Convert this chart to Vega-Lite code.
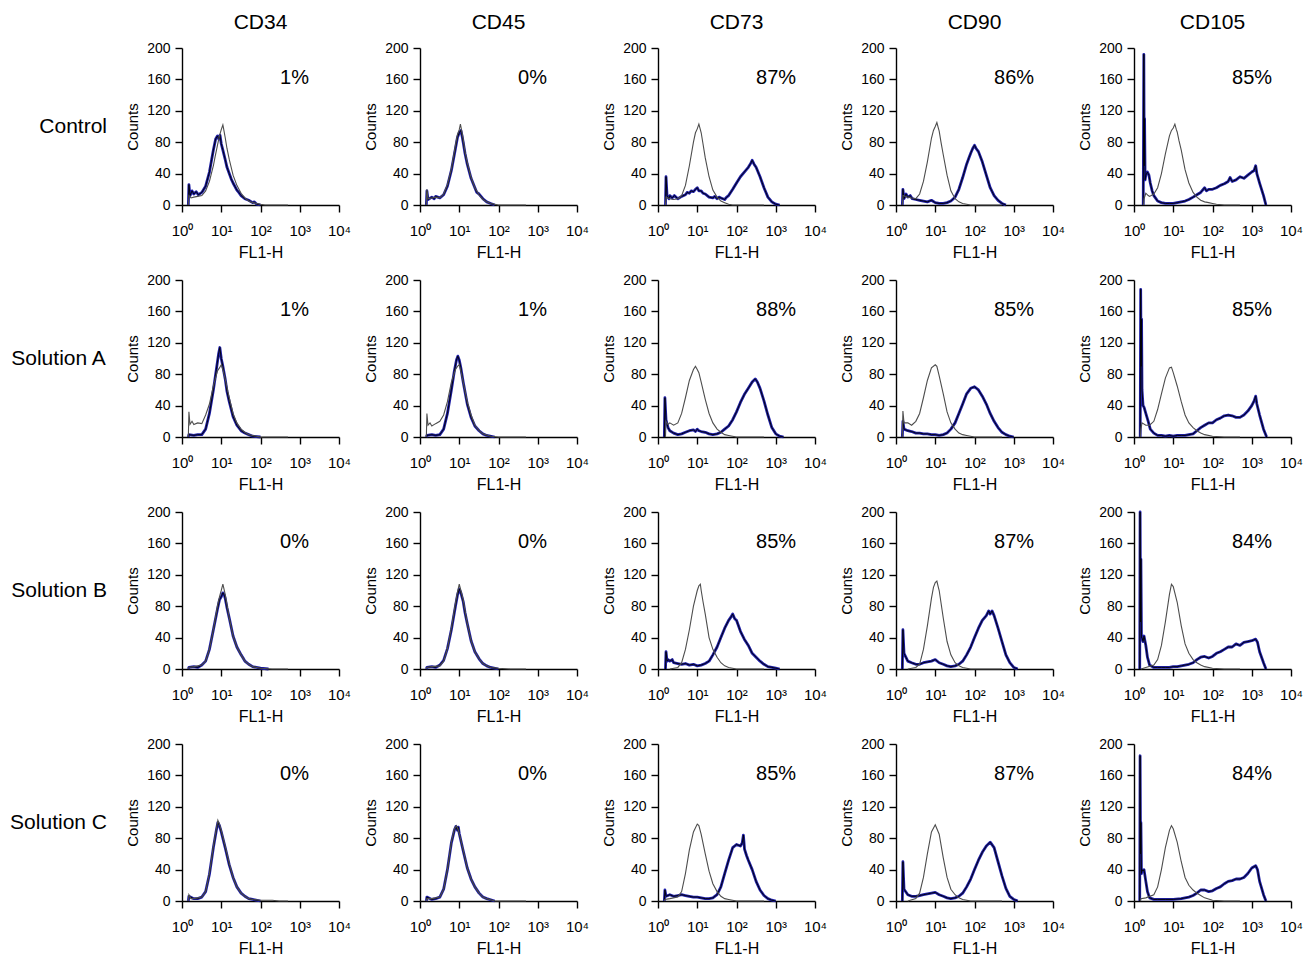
{
"$schema": "https://vega.github.io/schema/vega-lite/v6.json",
"background": "white",
"padding": {"left": 10, "top": 12, "right": 5, "bottom": 5},
"data": {"values": [
{"r":"Control","c":"CD34","s":"p","t":"1%"},
{"r":"Control","c":"CD45","s":"p","t":"0%"},
{"r":"Control","c":"CD73","s":"p","t":"87%"},
{"r":"Control","c":"CD90","s":"p","t":"86%"},
{"r":"Control","c":"CD105","s":"p","t":"85%"},
{"r":"Solution A","c":"CD34","s":"p","t":"1%"},
{"r":"Solution A","c":"CD45","s":"p","t":"1%"},
{"r":"Solution A","c":"CD73","s":"p","t":"88%"},
{"r":"Solution A","c":"CD90","s":"p","t":"85%"},
{"r":"Solution A","c":"CD105","s":"p","t":"85%"},
{"r":"Solution B","c":"CD34","s":"p","t":"0%"},
{"r":"Solution B","c":"CD45","s":"p","t":"0%"},
{"r":"Solution B","c":"CD73","s":"p","t":"85%"},
{"r":"Solution B","c":"CD90","s":"p","t":"87%"},
{"r":"Solution B","c":"CD105","s":"p","t":"84%"},
{"r":"Solution C","c":"CD34","s":"p","t":"0%"},
{"r":"Solution C","c":"CD45","s":"p","t":"0%"},
{"r":"Solution C","c":"CD73","s":"p","t":"85%"},
{"r":"Solution C","c":"CD90","s":"p","t":"87%"},
{"r":"Solution C","c":"CD105","s":"p","t":"84%"},

{"r":"Control","c":"CD34","s":"i","x":1.45,"y":0},{"r":"Control","c":"CD34","s":"i","x":1.5,"y":12},{"r":"Control","c":"CD34","s":"i","x":1.7,"y":9},{"r":"Control","c":"CD34","s":"i","x":2,"y":10},{"r":"Control","c":"CD34","s":"i","x":2.5,"y":11},{"r":"Control","c":"CD34","s":"i","x":3.2,"y":12},{"r":"Control","c":"CD34","s":"i","x":4,"y":18},{"r":"Control","c":"CD34","s":"i","x":5,"y":30},{"r":"Control","c":"CD34","s":"i","x":6.3,"y":50},{"r":"Control","c":"CD34","s":"i","x":7,"y":62},{"r":"Control","c":"CD34","s":"i","x":8,"y":76},{"r":"Control","c":"CD34","s":"i","x":9,"y":88},{"r":"Control","c":"CD34","s":"i","x":10,"y":96},{"r":"Control","c":"CD34","s":"i","x":11,"y":102},{"r":"Control","c":"CD34","s":"i","x":11.5,"y":97},{"r":"Control","c":"CD34","s":"i","x":12.6,"y":86},{"r":"Control","c":"CD34","s":"i","x":14,"y":72},{"r":"Control","c":"CD34","s":"i","x":16,"y":58},{"r":"Control","c":"CD34","s":"i","x":20,"y":38},{"r":"Control","c":"CD34","s":"i","x":25,"y":25},{"r":"Control","c":"CD34","s":"i","x":32,"y":15},{"r":"Control","c":"CD34","s":"i","x":40,"y":9},{"r":"Control","c":"CD34","s":"i","x":50,"y":5},{"r":"Control","c":"CD34","s":"i","x":63,"y":3},{"r":"Control","c":"CD34","s":"i","x":80,"y":2},{"r":"Control","c":"CD34","s":"i","x":100,"y":1},{"r":"Control","c":"CD34","s":"i","x":130,"y":0},{"r":"Control","c":"CD34","s":"i","x":500,"y":0},
{"r":"Control","c":"CD34","s":"b","x":1.45,"y":0},{"r":"Control","c":"CD34","s":"b","x":1.5,"y":26},{"r":"Control","c":"CD34","s":"b","x":1.6,"y":12},{"r":"Control","c":"CD34","s":"b","x":1.8,"y":18},{"r":"Control","c":"CD34","s":"b","x":2,"y":14},{"r":"Control","c":"CD34","s":"b","x":2.3,"y":17},{"r":"Control","c":"CD34","s":"b","x":2.6,"y":13},{"r":"Control","c":"CD34","s":"b","x":3.2,"y":16},{"r":"Control","c":"CD34","s":"b","x":4,"y":24},{"r":"Control","c":"CD34","s":"b","x":5,"y":42},{"r":"Control","c":"CD34","s":"b","x":5.7,"y":58},{"r":"Control","c":"CD34","s":"b","x":6.3,"y":70},{"r":"Control","c":"CD34","s":"b","x":7.2,"y":84},{"r":"Control","c":"CD34","s":"b","x":8,"y":88},{"r":"Control","c":"CD34","s":"b","x":8.7,"y":84},{"r":"Control","c":"CD34","s":"b","x":9.3,"y":89},{"r":"Control","c":"CD34","s":"b","x":10,"y":78},{"r":"Control","c":"CD34","s":"b","x":11,"y":70},{"r":"Control","c":"CD34","s":"b","x":12.6,"y":58},{"r":"Control","c":"CD34","s":"b","x":14,"y":48},{"r":"Control","c":"CD34","s":"b","x":16,"y":40},{"r":"Control","c":"CD34","s":"b","x":18,"y":33},{"r":"Control","c":"CD34","s":"b","x":20,"y":28},{"r":"Control","c":"CD34","s":"b","x":25,"y":19},{"r":"Control","c":"CD34","s":"b","x":28,"y":16},{"r":"Control","c":"CD34","s":"b","x":32,"y":12},{"r":"Control","c":"CD34","s":"b","x":40,"y":8},{"r":"Control","c":"CD34","s":"b","x":50,"y":6},{"r":"Control","c":"CD34","s":"b","x":63,"y":3},{"r":"Control","c":"CD34","s":"b","x":70,"y":4},{"r":"Control","c":"CD34","s":"b","x":80,"y":1},{"r":"Control","c":"CD34","s":"b","x":100,"y":0},

{"r":"Control","c":"CD45","s":"i","x":1.45,"y":0},{"r":"Control","c":"CD45","s":"i","x":1.5,"y":20},{"r":"Control","c":"CD45","s":"i","x":1.6,"y":8},{"r":"Control","c":"CD45","s":"i","x":2,"y":9},{"r":"Control","c":"CD45","s":"i","x":2.5,"y":10},{"r":"Control","c":"CD45","s":"i","x":3.2,"y":9},{"r":"Control","c":"CD45","s":"i","x":4,"y":14},{"r":"Control","c":"CD45","s":"i","x":5,"y":26},{"r":"Control","c":"CD45","s":"i","x":6.3,"y":46},{"r":"Control","c":"CD45","s":"i","x":8,"y":76},{"r":"Control","c":"CD45","s":"i","x":9,"y":90},{"r":"Control","c":"CD45","s":"i","x":10,"y":96},{"r":"Control","c":"CD45","s":"i","x":10.7,"y":103},{"r":"Control","c":"CD45","s":"i","x":11.5,"y":95},{"r":"Control","c":"CD45","s":"i","x":12.6,"y":84},{"r":"Control","c":"CD45","s":"i","x":14,"y":68},{"r":"Control","c":"CD45","s":"i","x":16,"y":54},{"r":"Control","c":"CD45","s":"i","x":20,"y":35},{"r":"Control","c":"CD45","s":"i","x":25,"y":22},{"r":"Control","c":"CD45","s":"i","x":32,"y":13},{"r":"Control","c":"CD45","s":"i","x":40,"y":7},{"r":"Control","c":"CD45","s":"i","x":50,"y":4},{"r":"Control","c":"CD45","s":"i","x":63,"y":2},{"r":"Control","c":"CD45","s":"i","x":80,"y":1},{"r":"Control","c":"CD45","s":"i","x":100,"y":0},{"r":"Control","c":"CD45","s":"i","x":500,"y":0},
{"r":"Control","c":"CD45","s":"b","x":1.45,"y":0},{"r":"Control","c":"CD45","s":"b","x":1.5,"y":18},{"r":"Control","c":"CD45","s":"b","x":1.6,"y":7},{"r":"Control","c":"CD45","s":"b","x":2,"y":10},{"r":"Control","c":"CD45","s":"b","x":2.3,"y":8},{"r":"Control","c":"CD45","s":"b","x":2.5,"y":11},{"r":"Control","c":"CD45","s":"b","x":3.2,"y":9},{"r":"Control","c":"CD45","s":"b","x":4,"y":13},{"r":"Control","c":"CD45","s":"b","x":5,"y":24},{"r":"Control","c":"CD45","s":"b","x":6.3,"y":44},{"r":"Control","c":"CD45","s":"b","x":8,"y":72},{"r":"Control","c":"CD45","s":"b","x":9,"y":86},{"r":"Control","c":"CD45","s":"b","x":10,"y":92},{"r":"Control","c":"CD45","s":"b","x":11,"y":95},{"r":"Control","c":"CD45","s":"b","x":11.8,"y":88},{"r":"Control","c":"CD45","s":"b","x":12.6,"y":80},{"r":"Control","c":"CD45","s":"b","x":14,"y":66},{"r":"Control","c":"CD45","s":"b","x":16,"y":52},{"r":"Control","c":"CD45","s":"b","x":20,"y":34},{"r":"Control","c":"CD45","s":"b","x":25,"y":22},{"r":"Control","c":"CD45","s":"b","x":28,"y":16},{"r":"Control","c":"CD45","s":"b","x":32,"y":14},{"r":"Control","c":"CD45","s":"b","x":40,"y":8},{"r":"Control","c":"CD45","s":"b","x":50,"y":4},{"r":"Control","c":"CD45","s":"b","x":63,"y":2},{"r":"Control","c":"CD45","s":"b","x":80,"y":0},

{"r":"Control","c":"CD73","s":"i","x":1.55,"y":0},{"r":"Control","c":"CD73","s":"i","x":1.6,"y":10},{"r":"Control","c":"CD73","s":"i","x":2,"y":8},{"r":"Control","c":"CD73","s":"i","x":2.5,"y":7},{"r":"Control","c":"CD73","s":"i","x":3.2,"y":8},{"r":"Control","c":"CD73","s":"i","x":4,"y":12},{"r":"Control","c":"CD73","s":"i","x":5,"y":25},{"r":"Control","c":"CD73","s":"i","x":6.3,"y":50},{"r":"Control","c":"CD73","s":"i","x":8,"y":80},{"r":"Control","c":"CD73","s":"i","x":9,"y":92},{"r":"Control","c":"CD73","s":"i","x":10,"y":97},{"r":"Control","c":"CD73","s":"i","x":11,"y":103},{"r":"Control","c":"CD73","s":"i","x":12,"y":96},{"r":"Control","c":"CD73","s":"i","x":12.6,"y":92},{"r":"Control","c":"CD73","s":"i","x":14,"y":78},{"r":"Control","c":"CD73","s":"i","x":16,"y":60},{"r":"Control","c":"CD73","s":"i","x":20,"y":36},{"r":"Control","c":"CD73","s":"i","x":25,"y":19},{"r":"Control","c":"CD73","s":"i","x":32,"y":10},{"r":"Control","c":"CD73","s":"i","x":40,"y":5},{"r":"Control","c":"CD73","s":"i","x":50,"y":3},{"r":"Control","c":"CD73","s":"i","x":63,"y":1},{"r":"Control","c":"CD73","s":"i","x":80,"y":0},{"r":"Control","c":"CD73","s":"i","x":500,"y":0},
{"r":"Control","c":"CD73","s":"b","x":1.55,"y":0},{"r":"Control","c":"CD73","s":"b","x":1.6,"y":36},{"r":"Control","c":"CD73","s":"b","x":1.7,"y":12},{"r":"Control","c":"CD73","s":"b","x":1.9,"y":8},{"r":"Control","c":"CD73","s":"b","x":2,"y":12},{"r":"Control","c":"CD73","s":"b","x":2.3,"y":9},{"r":"Control","c":"CD73","s":"b","x":2.6,"y":12},{"r":"Control","c":"CD73","s":"b","x":3.2,"y":8},{"r":"Control","c":"CD73","s":"b","x":4,"y":11},{"r":"Control","c":"CD73","s":"b","x":5,"y":13},{"r":"Control","c":"CD73","s":"b","x":5.5,"y":16},{"r":"Control","c":"CD73","s":"b","x":6.3,"y":15},{"r":"Control","c":"CD73","s":"b","x":7,"y":18},{"r":"Control","c":"CD73","s":"b","x":8,"y":17},{"r":"Control","c":"CD73","s":"b","x":9,"y":20},{"r":"Control","c":"CD73","s":"b","x":10,"y":22},{"r":"Control","c":"CD73","s":"b","x":11,"y":18},{"r":"Control","c":"CD73","s":"b","x":12.6,"y":18},{"r":"Control","c":"CD73","s":"b","x":14,"y":15},{"r":"Control","c":"CD73","s":"b","x":16,"y":14},{"r":"Control","c":"CD73","s":"b","x":20,"y":10},{"r":"Control","c":"CD73","s":"b","x":25,"y":9},{"r":"Control","c":"CD73","s":"b","x":28,"y":11},{"r":"Control","c":"CD73","s":"b","x":32,"y":8},{"r":"Control","c":"CD73","s":"b","x":36,"y":10},{"r":"Control","c":"CD73","s":"b","x":40,"y":9},{"r":"Control","c":"CD73","s":"b","x":50,"y":7},{"r":"Control","c":"CD73","s":"b","x":56,"y":10},{"r":"Control","c":"CD73","s":"b","x":63,"y":12},{"r":"Control","c":"CD73","s":"b","x":80,"y":20},{"r":"Control","c":"CD73","s":"b","x":100,"y":28},{"r":"Control","c":"CD73","s":"b","x":126,"y":36},{"r":"Control","c":"CD73","s":"b","x":158,"y":42},{"r":"Control","c":"CD73","s":"b","x":200,"y":48},{"r":"Control","c":"CD73","s":"b","x":230,"y":53},{"r":"Control","c":"CD73","s":"b","x":251,"y":57},{"r":"Control","c":"CD73","s":"b","x":280,"y":52},{"r":"Control","c":"CD73","s":"b","x":316,"y":48},{"r":"Control","c":"CD73","s":"b","x":398,"y":36},{"r":"Control","c":"CD73","s":"b","x":501,"y":22},{"r":"Control","c":"CD73","s":"b","x":631,"y":10},{"r":"Control","c":"CD73","s":"b","x":794,"y":4},{"r":"Control","c":"CD73","s":"b","x":1000,"y":1},{"r":"Control","c":"CD73","s":"b","x":1259,"y":0},

{"r":"Control","c":"CD90","s":"i","x":1.45,"y":0},{"r":"Control","c":"CD90","s":"i","x":1.5,"y":12},{"r":"Control","c":"CD90","s":"i","x":2,"y":10},{"r":"Control","c":"CD90","s":"i","x":2.5,"y":9},{"r":"Control","c":"CD90","s":"i","x":3.2,"y":8},{"r":"Control","c":"CD90","s":"i","x":4,"y":14},{"r":"Control","c":"CD90","s":"i","x":5,"y":30},{"r":"Control","c":"CD90","s":"i","x":6.3,"y":55},{"r":"Control","c":"CD90","s":"i","x":8,"y":85},{"r":"Control","c":"CD90","s":"i","x":9,"y":95},{"r":"Control","c":"CD90","s":"i","x":10,"y":100},{"r":"Control","c":"CD90","s":"i","x":11,"y":105},{"r":"Control","c":"CD90","s":"i","x":12,"y":98},{"r":"Control","c":"CD90","s":"i","x":12.6,"y":94},{"r":"Control","c":"CD90","s":"i","x":14,"y":80},{"r":"Control","c":"CD90","s":"i","x":16,"y":64},{"r":"Control","c":"CD90","s":"i","x":20,"y":38},{"r":"Control","c":"CD90","s":"i","x":25,"y":18},{"r":"Control","c":"CD90","s":"i","x":32,"y":8},{"r":"Control","c":"CD90","s":"i","x":40,"y":4},{"r":"Control","c":"CD90","s":"i","x":50,"y":2},{"r":"Control","c":"CD90","s":"i","x":63,"y":1},{"r":"Control","c":"CD90","s":"i","x":80,"y":0},{"r":"Control","c":"CD90","s":"i","x":500,"y":0},
{"r":"Control","c":"CD90","s":"b","x":1.45,"y":0},{"r":"Control","c":"CD90","s":"b","x":1.5,"y":20},{"r":"Control","c":"CD90","s":"b","x":1.6,"y":8},{"r":"Control","c":"CD90","s":"b","x":1.8,"y":14},{"r":"Control","c":"CD90","s":"b","x":2,"y":10},{"r":"Control","c":"CD90","s":"b","x":2.3,"y":12},{"r":"Control","c":"CD90","s":"b","x":2.6,"y":8},{"r":"Control","c":"CD90","s":"b","x":3.2,"y":7},{"r":"Control","c":"CD90","s":"b","x":4,"y":6},{"r":"Control","c":"CD90","s":"b","x":5,"y":5},{"r":"Control","c":"CD90","s":"b","x":6.3,"y":4},{"r":"Control","c":"CD90","s":"b","x":8,"y":6},{"r":"Control","c":"CD90","s":"b","x":10,"y":3},{"r":"Control","c":"CD90","s":"b","x":12.6,"y":2},{"r":"Control","c":"CD90","s":"b","x":16,"y":2},{"r":"Control","c":"CD90","s":"b","x":20,"y":3},{"r":"Control","c":"CD90","s":"b","x":25,"y":5},{"r":"Control","c":"CD90","s":"b","x":32,"y":10},{"r":"Control","c":"CD90","s":"b","x":40,"y":20},{"r":"Control","c":"CD90","s":"b","x":50,"y":35},{"r":"Control","c":"CD90","s":"b","x":63,"y":52},{"r":"Control","c":"CD90","s":"b","x":72,"y":60},{"r":"Control","c":"CD90","s":"b","x":80,"y":66},{"r":"Control","c":"CD90","s":"b","x":90,"y":72},{"r":"Control","c":"CD90","s":"b","x":100,"y":76},{"r":"Control","c":"CD90","s":"b","x":110,"y":72},{"r":"Control","c":"CD90","s":"b","x":126,"y":68},{"r":"Control","c":"CD90","s":"b","x":158,"y":55},{"r":"Control","c":"CD90","s":"b","x":200,"y":38},{"r":"Control","c":"CD90","s":"b","x":251,"y":22},{"r":"Control","c":"CD90","s":"b","x":316,"y":12},{"r":"Control","c":"CD90","s":"b","x":398,"y":6},{"r":"Control","c":"CD90","s":"b","x":501,"y":2},{"r":"Control","c":"CD90","s":"b","x":631,"y":0},

{"r":"Control","c":"CD105","s":"i","x":1.75,"y":0},{"r":"Control","c":"CD105","s":"i","x":1.8,"y":8},{"r":"Control","c":"CD105","s":"i","x":2,"y":15},{"r":"Control","c":"CD105","s":"i","x":2.3,"y":12},{"r":"Control","c":"CD105","s":"i","x":2.5,"y":11},{"r":"Control","c":"CD105","s":"i","x":3.2,"y":14},{"r":"Control","c":"CD105","s":"i","x":4,"y":22},{"r":"Control","c":"CD105","s":"i","x":5,"y":40},{"r":"Control","c":"CD105","s":"i","x":6.3,"y":65},{"r":"Control","c":"CD105","s":"i","x":8,"y":88},{"r":"Control","c":"CD105","s":"i","x":9,"y":95},{"r":"Control","c":"CD105","s":"i","x":10,"y":98},{"r":"Control","c":"CD105","s":"i","x":11,"y":103},{"r":"Control","c":"CD105","s":"i","x":12,"y":96},{"r":"Control","c":"CD105","s":"i","x":12.6,"y":93},{"r":"Control","c":"CD105","s":"i","x":14,"y":82},{"r":"Control","c":"CD105","s":"i","x":16,"y":70},{"r":"Control","c":"CD105","s":"i","x":20,"y":45},{"r":"Control","c":"CD105","s":"i","x":25,"y":28},{"r":"Control","c":"CD105","s":"i","x":32,"y":16},{"r":"Control","c":"CD105","s":"i","x":40,"y":10},{"r":"Control","c":"CD105","s":"i","x":50,"y":6},{"r":"Control","c":"CD105","s":"i","x":63,"y":4},{"r":"Control","c":"CD105","s":"i","x":80,"y":3},{"r":"Control","c":"CD105","s":"i","x":100,"y":2},{"r":"Control","c":"CD105","s":"i","x":126,"y":1},{"r":"Control","c":"CD105","s":"i","x":200,"y":0},{"r":"Control","c":"CD105","s":"i","x":500,"y":0},
{"r":"Control","c":"CD105","s":"b","x":1.72,"y":0},{"r":"Control","c":"CD105","s":"b","x":1.78,"y":192},{"r":"Control","c":"CD105","s":"b","x":1.82,"y":50},{"r":"Control","c":"CD105","s":"b","x":1.86,"y":110},{"r":"Control","c":"CD105","s":"b","x":1.92,"y":32},{"r":"Control","c":"CD105","s":"b","x":2,"y":38},{"r":"Control","c":"CD105","s":"b","x":2.2,"y":42},{"r":"Control","c":"CD105","s":"b","x":2.4,"y":38},{"r":"Control","c":"CD105","s":"b","x":2.6,"y":28},{"r":"Control","c":"CD105","s":"b","x":2.9,"y":18},{"r":"Control","c":"CD105","s":"b","x":3.2,"y":12},{"r":"Control","c":"CD105","s":"b","x":4,"y":5},{"r":"Control","c":"CD105","s":"b","x":5,"y":3},{"r":"Control","c":"CD105","s":"b","x":6.3,"y":2},{"r":"Control","c":"CD105","s":"b","x":8,"y":2},{"r":"Control","c":"CD105","s":"b","x":10,"y":2},{"r":"Control","c":"CD105","s":"b","x":12.6,"y":3},{"r":"Control","c":"CD105","s":"b","x":16,"y":4},{"r":"Control","c":"CD105","s":"b","x":20,"y":5},{"r":"Control","c":"CD105","s":"b","x":25,"y":7},{"r":"Control","c":"CD105","s":"b","x":32,"y":10},{"r":"Control","c":"CD105","s":"b","x":40,"y":13},{"r":"Control","c":"CD105","s":"b","x":50,"y":16},{"r":"Control","c":"CD105","s":"b","x":63,"y":22},{"r":"Control","c":"CD105","s":"b","x":70,"y":18},{"r":"Control","c":"CD105","s":"b","x":80,"y":20},{"r":"Control","c":"CD105","s":"b","x":100,"y":20},{"r":"Control","c":"CD105","s":"b","x":126,"y":22},{"r":"Control","c":"CD105","s":"b","x":158,"y":25},{"r":"Control","c":"CD105","s":"b","x":200,"y":27},{"r":"Control","c":"CD105","s":"b","x":251,"y":30},{"r":"Control","c":"CD105","s":"b","x":280,"y":35},{"r":"Control","c":"CD105","s":"b","x":316,"y":30},{"r":"Control","c":"CD105","s":"b","x":398,"y":32},{"r":"Control","c":"CD105","s":"b","x":501,"y":36},{"r":"Control","c":"CD105","s":"b","x":631,"y":34},{"r":"Control","c":"CD105","s":"b","x":794,"y":38},{"r":"Control","c":"CD105","s":"b","x":1000,"y":42},{"r":"Control","c":"CD105","s":"b","x":1150,"y":44},{"r":"Control","c":"CD105","s":"b","x":1259,"y":50},{"r":"Control","c":"CD105","s":"b","x":1350,"y":40},{"r":"Control","c":"CD105","s":"b","x":1585,"y":28},{"r":"Control","c":"CD105","s":"b","x":1995,"y":12},{"r":"Control","c":"CD105","s":"b","x":2300,"y":0},

{"r":"Solution A","c":"CD34","s":"i","x":1.45,"y":0},{"r":"Solution A","c":"CD34","s":"i","x":1.5,"y":32},{"r":"Solution A","c":"CD34","s":"i","x":1.6,"y":16},{"r":"Solution A","c":"CD34","s":"i","x":1.8,"y":20},{"r":"Solution A","c":"CD34","s":"i","x":2,"y":16},{"r":"Solution A","c":"CD34","s":"i","x":2.5,"y":18},{"r":"Solution A","c":"CD34","s":"i","x":3.2,"y":17},{"r":"Solution A","c":"CD34","s":"i","x":4,"y":28},{"r":"Solution A","c":"CD34","s":"i","x":5,"y":42},{"r":"Solution A","c":"CD34","s":"i","x":6.3,"y":65},{"r":"Solution A","c":"CD34","s":"i","x":8,"y":84},{"r":"Solution A","c":"CD34","s":"i","x":9,"y":88},{"r":"Solution A","c":"CD34","s":"i","x":10,"y":92},{"r":"Solution A","c":"CD34","s":"i","x":11,"y":86},{"r":"Solution A","c":"CD34","s":"i","x":12.6,"y":74},{"r":"Solution A","c":"CD34","s":"i","x":16,"y":50},{"r":"Solution A","c":"CD34","s":"i","x":20,"y":30},{"r":"Solution A","c":"CD34","s":"i","x":25,"y":18},{"r":"Solution A","c":"CD34","s":"i","x":32,"y":10},{"r":"Solution A","c":"CD34","s":"i","x":40,"y":6},{"r":"Solution A","c":"CD34","s":"i","x":50,"y":3},{"r":"Solution A","c":"CD34","s":"i","x":63,"y":2},{"r":"Solution A","c":"CD34","s":"i","x":80,"y":1},{"r":"Solution A","c":"CD34","s":"i","x":100,"y":0},{"r":"Solution A","c":"CD34","s":"i","x":500,"y":0},
{"r":"Solution A","c":"CD34","s":"b","x":1.45,"y":0},{"r":"Solution A","c":"CD34","s":"b","x":1.5,"y":3},{"r":"Solution A","c":"CD34","s":"b","x":2,"y":2},{"r":"Solution A","c":"CD34","s":"b","x":2.5,"y":3},{"r":"Solution A","c":"CD34","s":"b","x":3.2,"y":3},{"r":"Solution A","c":"CD34","s":"b","x":4,"y":10},{"r":"Solution A","c":"CD34","s":"b","x":5,"y":30},{"r":"Solution A","c":"CD34","s":"b","x":6.3,"y":60},{"r":"Solution A","c":"CD34","s":"b","x":7.5,"y":86},{"r":"Solution A","c":"CD34","s":"b","x":8.5,"y":105},{"r":"Solution A","c":"CD34","s":"b","x":9.2,"y":114},{"r":"Solution A","c":"CD34","s":"b","x":10,"y":100},{"r":"Solution A","c":"CD34","s":"b","x":11,"y":90},{"r":"Solution A","c":"CD34","s":"b","x":12.6,"y":74},{"r":"Solution A","c":"CD34","s":"b","x":14,"y":58},{"r":"Solution A","c":"CD34","s":"b","x":16,"y":45},{"r":"Solution A","c":"CD34","s":"b","x":20,"y":26},{"r":"Solution A","c":"CD34","s":"b","x":25,"y":15},{"r":"Solution A","c":"CD34","s":"b","x":32,"y":8},{"r":"Solution A","c":"CD34","s":"b","x":40,"y":5},{"r":"Solution A","c":"CD34","s":"b","x":50,"y":3},{"r":"Solution A","c":"CD34","s":"b","x":63,"y":1},{"r":"Solution A","c":"CD34","s":"b","x":100,"y":0},

{"r":"Solution A","c":"CD45","s":"i","x":1.45,"y":0},{"r":"Solution A","c":"CD45","s":"i","x":1.5,"y":30},{"r":"Solution A","c":"CD45","s":"i","x":1.6,"y":15},{"r":"Solution A","c":"CD45","s":"i","x":1.8,"y":18},{"r":"Solution A","c":"CD45","s":"i","x":2,"y":14},{"r":"Solution A","c":"CD45","s":"i","x":2.5,"y":17},{"r":"Solution A","c":"CD45","s":"i","x":3.2,"y":20},{"r":"Solution A","c":"CD45","s":"i","x":4,"y":28},{"r":"Solution A","c":"CD45","s":"i","x":5,"y":45},{"r":"Solution A","c":"CD45","s":"i","x":6.3,"y":70},{"r":"Solution A","c":"CD45","s":"i","x":8,"y":86},{"r":"Solution A","c":"CD45","s":"i","x":9,"y":90},{"r":"Solution A","c":"CD45","s":"i","x":10,"y":92},{"r":"Solution A","c":"CD45","s":"i","x":11,"y":84},{"r":"Solution A","c":"CD45","s":"i","x":12.6,"y":70},{"r":"Solution A","c":"CD45","s":"i","x":16,"y":45},{"r":"Solution A","c":"CD45","s":"i","x":20,"y":28},{"r":"Solution A","c":"CD45","s":"i","x":25,"y":15},{"r":"Solution A","c":"CD45","s":"i","x":32,"y":8},{"r":"Solution A","c":"CD45","s":"i","x":40,"y":4},{"r":"Solution A","c":"CD45","s":"i","x":63,"y":1},{"r":"Solution A","c":"CD45","s":"i","x":100,"y":0},{"r":"Solution A","c":"CD45","s":"i","x":500,"y":0},
{"r":"Solution A","c":"CD45","s":"b","x":1.45,"y":0},{"r":"Solution A","c":"CD45","s":"b","x":1.5,"y":2},{"r":"Solution A","c":"CD45","s":"b","x":2,"y":3},{"r":"Solution A","c":"CD45","s":"b","x":2.5,"y":2},{"r":"Solution A","c":"CD45","s":"b","x":3.2,"y":3},{"r":"Solution A","c":"CD45","s":"b","x":4,"y":10},{"r":"Solution A","c":"CD45","s":"b","x":5,"y":30},{"r":"Solution A","c":"CD45","s":"b","x":6.3,"y":60},{"r":"Solution A","c":"CD45","s":"b","x":7.5,"y":84},{"r":"Solution A","c":"CD45","s":"b","x":8.5,"y":98},{"r":"Solution A","c":"CD45","s":"b","x":9.2,"y":103},{"r":"Solution A","c":"CD45","s":"b","x":10,"y":98},{"r":"Solution A","c":"CD45","s":"b","x":11,"y":88},{"r":"Solution A","c":"CD45","s":"b","x":12.6,"y":70},{"r":"Solution A","c":"CD45","s":"b","x":16,"y":42},{"r":"Solution A","c":"CD45","s":"b","x":20,"y":25},{"r":"Solution A","c":"CD45","s":"b","x":25,"y":14},{"r":"Solution A","c":"CD45","s":"b","x":32,"y":8},{"r":"Solution A","c":"CD45","s":"b","x":40,"y":4},{"r":"Solution A","c":"CD45","s":"b","x":50,"y":2},{"r":"Solution A","c":"CD45","s":"b","x":80,"y":0},

{"r":"Solution A","c":"CD73","s":"i","x":1.55,"y":0},{"r":"Solution A","c":"CD73","s":"i","x":1.6,"y":20},{"r":"Solution A","c":"CD73","s":"i","x":1.8,"y":16},{"r":"Solution A","c":"CD73","s":"i","x":2,"y":18},{"r":"Solution A","c":"CD73","s":"i","x":2.5,"y":15},{"r":"Solution A","c":"CD73","s":"i","x":3.2,"y":18},{"r":"Solution A","c":"CD73","s":"i","x":4,"y":30},{"r":"Solution A","c":"CD73","s":"i","x":5,"y":50},{"r":"Solution A","c":"CD73","s":"i","x":6.3,"y":72},{"r":"Solution A","c":"CD73","s":"i","x":8,"y":86},{"r":"Solution A","c":"CD73","s":"i","x":9,"y":90},{"r":"Solution A","c":"CD73","s":"i","x":10,"y":86},{"r":"Solution A","c":"CD73","s":"i","x":11,"y":82},{"r":"Solution A","c":"CD73","s":"i","x":12.6,"y":70},{"r":"Solution A","c":"CD73","s":"i","x":16,"y":48},{"r":"Solution A","c":"CD73","s":"i","x":20,"y":30},{"r":"Solution A","c":"CD73","s":"i","x":25,"y":18},{"r":"Solution A","c":"CD73","s":"i","x":32,"y":10},{"r":"Solution A","c":"CD73","s":"i","x":40,"y":6},{"r":"Solution A","c":"CD73","s":"i","x":50,"y":3},{"r":"Solution A","c":"CD73","s":"i","x":63,"y":2},{"r":"Solution A","c":"CD73","s":"i","x":100,"y":0},{"r":"Solution A","c":"CD73","s":"i","x":500,"y":0},
{"r":"Solution A","c":"CD73","s":"b","x":1.45,"y":0},{"r":"Solution A","c":"CD73","s":"b","x":1.5,"y":50},{"r":"Solution A","c":"CD73","s":"b","x":1.6,"y":22},{"r":"Solution A","c":"CD73","s":"b","x":1.8,"y":12},{"r":"Solution A","c":"CD73","s":"b","x":2,"y":8},{"r":"Solution A","c":"CD73","s":"b","x":2.5,"y":5},{"r":"Solution A","c":"CD73","s":"b","x":3.2,"y":3},{"r":"Solution A","c":"CD73","s":"b","x":4,"y":4},{"r":"Solution A","c":"CD73","s":"b","x":5,"y":6},{"r":"Solution A","c":"CD73","s":"b","x":6.3,"y":8},{"r":"Solution A","c":"CD73","s":"b","x":8,"y":9},{"r":"Solution A","c":"CD73","s":"b","x":9,"y":7},{"r":"Solution A","c":"CD73","s":"b","x":10,"y":10},{"r":"Solution A","c":"CD73","s":"b","x":11,"y":8},{"r":"Solution A","c":"CD73","s":"b","x":12.6,"y":7},{"r":"Solution A","c":"CD73","s":"b","x":16,"y":6},{"r":"Solution A","c":"CD73","s":"b","x":20,"y":4},{"r":"Solution A","c":"CD73","s":"b","x":25,"y":3},{"r":"Solution A","c":"CD73","s":"b","x":32,"y":4},{"r":"Solution A","c":"CD73","s":"b","x":40,"y":6},{"r":"Solution A","c":"CD73","s":"b","x":50,"y":10},{"r":"Solution A","c":"CD73","s":"b","x":63,"y":14},{"r":"Solution A","c":"CD73","s":"b","x":80,"y":22},{"r":"Solution A","c":"CD73","s":"b","x":100,"y":32},{"r":"Solution A","c":"CD73","s":"b","x":126,"y":44},{"r":"Solution A","c":"CD73","s":"b","x":158,"y":54},{"r":"Solution A","c":"CD73","s":"b","x":200,"y":62},{"r":"Solution A","c":"CD73","s":"b","x":251,"y":70},{"r":"Solution A","c":"CD73","s":"b","x":300,"y":74},{"r":"Solution A","c":"CD73","s":"b","x":340,"y":70},{"r":"Solution A","c":"CD73","s":"b","x":398,"y":62},{"r":"Solution A","c":"CD73","s":"b","x":501,"y":46},{"r":"Solution A","c":"CD73","s":"b","x":631,"y":28},{"r":"Solution A","c":"CD73","s":"b","x":794,"y":12},{"r":"Solution A","c":"CD73","s":"b","x":1000,"y":4},{"r":"Solution A","c":"CD73","s":"b","x":1259,"y":1},{"r":"Solution A","c":"CD73","s":"b","x":1585,"y":0},

{"r":"Solution A","c":"CD90","s":"i","x":1.45,"y":0},{"r":"Solution A","c":"CD90","s":"i","x":1.5,"y":33},{"r":"Solution A","c":"CD90","s":"i","x":1.6,"y":18},{"r":"Solution A","c":"CD90","s":"i","x":2,"y":18},{"r":"Solution A","c":"CD90","s":"i","x":2.5,"y":15},{"r":"Solution A","c":"CD90","s":"i","x":3.2,"y":20},{"r":"Solution A","c":"CD90","s":"i","x":4,"y":30},{"r":"Solution A","c":"CD90","s":"i","x":5,"y":50},{"r":"Solution A","c":"CD90","s":"i","x":6.3,"y":72},{"r":"Solution A","c":"CD90","s":"i","x":8,"y":88},{"r":"Solution A","c":"CD90","s":"i","x":10,"y":92},{"r":"Solution A","c":"CD90","s":"i","x":11,"y":90},{"r":"Solution A","c":"CD90","s":"i","x":12.6,"y":78},{"r":"Solution A","c":"CD90","s":"i","x":16,"y":55},{"r":"Solution A","c":"CD90","s":"i","x":20,"y":32},{"r":"Solution A","c":"CD90","s":"i","x":25,"y":18},{"r":"Solution A","c":"CD90","s":"i","x":32,"y":10},{"r":"Solution A","c":"CD90","s":"i","x":40,"y":5},{"r":"Solution A","c":"CD90","s":"i","x":50,"y":3},{"r":"Solution A","c":"CD90","s":"i","x":63,"y":2},{"r":"Solution A","c":"CD90","s":"i","x":100,"y":0},{"r":"Solution A","c":"CD90","s":"i","x":500,"y":0},
{"r":"Solution A","c":"CD90","s":"b","x":1.45,"y":0},{"r":"Solution A","c":"CD90","s":"b","x":1.5,"y":20},{"r":"Solution A","c":"CD90","s":"b","x":1.6,"y":10},{"r":"Solution A","c":"CD90","s":"b","x":2,"y":8},{"r":"Solution A","c":"CD90","s":"b","x":2.5,"y":7},{"r":"Solution A","c":"CD90","s":"b","x":3.2,"y":5},{"r":"Solution A","c":"CD90","s":"b","x":4,"y":5},{"r":"Solution A","c":"CD90","s":"b","x":5,"y":4},{"r":"Solution A","c":"CD90","s":"b","x":6.3,"y":4},{"r":"Solution A","c":"CD90","s":"b","x":8,"y":3},{"r":"Solution A","c":"CD90","s":"b","x":10,"y":3},{"r":"Solution A","c":"CD90","s":"b","x":12.6,"y":2},{"r":"Solution A","c":"CD90","s":"b","x":16,"y":3},{"r":"Solution A","c":"CD90","s":"b","x":20,"y":5},{"r":"Solution A","c":"CD90","s":"b","x":25,"y":10},{"r":"Solution A","c":"CD90","s":"b","x":32,"y":18},{"r":"Solution A","c":"CD90","s":"b","x":40,"y":30},{"r":"Solution A","c":"CD90","s":"b","x":50,"y":42},{"r":"Solution A","c":"CD90","s":"b","x":63,"y":55},{"r":"Solution A","c":"CD90","s":"b","x":80,"y":62},{"r":"Solution A","c":"CD90","s":"b","x":100,"y":64},{"r":"Solution A","c":"CD90","s":"b","x":126,"y":60},{"r":"Solution A","c":"CD90","s":"b","x":158,"y":52},{"r":"Solution A","c":"CD90","s":"b","x":200,"y":42},{"r":"Solution A","c":"CD90","s":"b","x":251,"y":30},{"r":"Solution A","c":"CD90","s":"b","x":316,"y":20},{"r":"Solution A","c":"CD90","s":"b","x":398,"y":12},{"r":"Solution A","c":"CD90","s":"b","x":501,"y":6},{"r":"Solution A","c":"CD90","s":"b","x":631,"y":3},{"r":"Solution A","c":"CD90","s":"b","x":794,"y":1},{"r":"Solution A","c":"CD90","s":"b","x":1000,"y":0},

{"r":"Solution A","c":"CD105","s":"i","x":1.45,"y":0},{"r":"Solution A","c":"CD105","s":"i","x":1.5,"y":10},{"r":"Solution A","c":"CD105","s":"i","x":1.6,"y":18},{"r":"Solution A","c":"CD105","s":"i","x":2,"y":15},{"r":"Solution A","c":"CD105","s":"i","x":2.5,"y":15},{"r":"Solution A","c":"CD105","s":"i","x":3.2,"y":20},{"r":"Solution A","c":"CD105","s":"i","x":4,"y":35},{"r":"Solution A","c":"CD105","s":"i","x":5,"y":55},{"r":"Solution A","c":"CD105","s":"i","x":6.3,"y":75},{"r":"Solution A","c":"CD105","s":"i","x":8,"y":88},{"r":"Solution A","c":"CD105","s":"i","x":9,"y":89},{"r":"Solution A","c":"CD105","s":"i","x":10,"y":82},{"r":"Solution A","c":"CD105","s":"i","x":12.6,"y":65},{"r":"Solution A","c":"CD105","s":"i","x":16,"y":45},{"r":"Solution A","c":"CD105","s":"i","x":20,"y":28},{"r":"Solution A","c":"CD105","s":"i","x":25,"y":18},{"r":"Solution A","c":"CD105","s":"i","x":32,"y":12},{"r":"Solution A","c":"CD105","s":"i","x":40,"y":8},{"r":"Solution A","c":"CD105","s":"i","x":50,"y":5},{"r":"Solution A","c":"CD105","s":"i","x":63,"y":3},{"r":"Solution A","c":"CD105","s":"i","x":100,"y":1},{"r":"Solution A","c":"CD105","s":"i","x":200,"y":0},{"r":"Solution A","c":"CD105","s":"i","x":500,"y":0},
{"r":"Solution A","c":"CD105","s":"b","x":1.44,"y":0},{"r":"Solution A","c":"CD105","s":"b","x":1.48,"y":188},{"r":"Solution A","c":"CD105","s":"b","x":1.52,"y":90},{"r":"Solution A","c":"CD105","s":"b","x":1.56,"y":150},{"r":"Solution A","c":"CD105","s":"b","x":1.6,"y":60},{"r":"Solution A","c":"CD105","s":"b","x":1.7,"y":40},{"r":"Solution A","c":"CD105","s":"b","x":1.8,"y":38},{"r":"Solution A","c":"CD105","s":"b","x":2,"y":30},{"r":"Solution A","c":"CD105","s":"b","x":2.3,"y":20},{"r":"Solution A","c":"CD105","s":"b","x":2.6,"y":10},{"r":"Solution A","c":"CD105","s":"b","x":3.2,"y":5},{"r":"Solution A","c":"CD105","s":"b","x":4,"y":2},{"r":"Solution A","c":"CD105","s":"b","x":5,"y":2},{"r":"Solution A","c":"CD105","s":"b","x":6.3,"y":1},{"r":"Solution A","c":"CD105","s":"b","x":8,"y":2},{"r":"Solution A","c":"CD105","s":"b","x":10,"y":1},{"r":"Solution A","c":"CD105","s":"b","x":12.6,"y":2},{"r":"Solution A","c":"CD105","s":"b","x":16,"y":2},{"r":"Solution A","c":"CD105","s":"b","x":20,"y":2},{"r":"Solution A","c":"CD105","s":"b","x":25,"y":3},{"r":"Solution A","c":"CD105","s":"b","x":32,"y":4},{"r":"Solution A","c":"CD105","s":"b","x":40,"y":8},{"r":"Solution A","c":"CD105","s":"b","x":50,"y":12},{"r":"Solution A","c":"CD105","s":"b","x":63,"y":15},{"r":"Solution A","c":"CD105","s":"b","x":80,"y":18},{"r":"Solution A","c":"CD105","s":"b","x":100,"y":18},{"r":"Solution A","c":"CD105","s":"b","x":126,"y":22},{"r":"Solution A","c":"CD105","s":"b","x":158,"y":24},{"r":"Solution A","c":"CD105","s":"b","x":200,"y":27},{"r":"Solution A","c":"CD105","s":"b","x":251,"y":28},{"r":"Solution A","c":"CD105","s":"b","x":316,"y":27},{"r":"Solution A","c":"CD105","s":"b","x":398,"y":25},{"r":"Solution A","c":"CD105","s":"b","x":501,"y":25},{"r":"Solution A","c":"CD105","s":"b","x":631,"y":28},{"r":"Solution A","c":"CD105","s":"b","x":794,"y":33},{"r":"Solution A","c":"CD105","s":"b","x":1000,"y":40},{"r":"Solution A","c":"CD105","s":"b","x":1150,"y":46},{"r":"Solution A","c":"CD105","s":"b","x":1259,"y":52},{"r":"Solution A","c":"CD105","s":"b","x":1350,"y":42},{"r":"Solution A","c":"CD105","s":"b","x":1585,"y":28},{"r":"Solution A","c":"CD105","s":"b","x":1995,"y":10},{"r":"Solution A","c":"CD105","s":"b","x":2400,"y":0},

{"r":"Solution B","c":"CD34","s":"i","x":1.45,"y":0},{"r":"Solution B","c":"CD34","s":"i","x":1.5,"y":2},{"r":"Solution B","c":"CD34","s":"i","x":2,"y":3},{"r":"Solution B","c":"CD34","s":"i","x":3.2,"y":5},{"r":"Solution B","c":"CD34","s":"i","x":4,"y":10},{"r":"Solution B","c":"CD34","s":"i","x":5,"y":25},{"r":"Solution B","c":"CD34","s":"i","x":6.3,"y":50},{"r":"Solution B","c":"CD34","s":"i","x":8,"y":80},{"r":"Solution B","c":"CD34","s":"i","x":9,"y":92},{"r":"Solution B","c":"CD34","s":"i","x":10,"y":100},{"r":"Solution B","c":"CD34","s":"i","x":11,"y":108},{"r":"Solution B","c":"CD34","s":"i","x":12,"y":100},{"r":"Solution B","c":"CD34","s":"i","x":12.6,"y":95},{"r":"Solution B","c":"CD34","s":"i","x":16,"y":65},{"r":"Solution B","c":"CD34","s":"i","x":20,"y":42},{"r":"Solution B","c":"CD34","s":"i","x":25,"y":28},{"r":"Solution B","c":"CD34","s":"i","x":32,"y":18},{"r":"Solution B","c":"CD34","s":"i","x":40,"y":10},{"r":"Solution B","c":"CD34","s":"i","x":50,"y":6},{"r":"Solution B","c":"CD34","s":"i","x":63,"y":3},{"r":"Solution B","c":"CD34","s":"i","x":100,"y":1},{"r":"Solution B","c":"CD34","s":"i","x":200,"y":0},{"r":"Solution B","c":"CD34","s":"i","x":500,"y":0},
{"r":"Solution B","c":"CD34","s":"b","x":1.45,"y":0},{"r":"Solution B","c":"CD34","s":"b","x":1.5,"y":2},{"r":"Solution B","c":"CD34","s":"b","x":2,"y":3},{"r":"Solution B","c":"CD34","s":"b","x":2.5,"y":2},{"r":"Solution B","c":"CD34","s":"b","x":3.2,"y":5},{"r":"Solution B","c":"CD34","s":"b","x":4,"y":10},{"r":"Solution B","c":"CD34","s":"b","x":5,"y":25},{"r":"Solution B","c":"CD34","s":"b","x":6.3,"y":50},{"r":"Solution B","c":"CD34","s":"b","x":8,"y":76},{"r":"Solution B","c":"CD34","s":"b","x":9,"y":88},{"r":"Solution B","c":"CD34","s":"b","x":10,"y":92},{"r":"Solution B","c":"CD34","s":"b","x":11,"y":97},{"r":"Solution B","c":"CD34","s":"b","x":12,"y":94},{"r":"Solution B","c":"CD34","s":"b","x":12.6,"y":90},{"r":"Solution B","c":"CD34","s":"b","x":14,"y":78},{"r":"Solution B","c":"CD34","s":"b","x":16,"y":65},{"r":"Solution B","c":"CD34","s":"b","x":20,"y":42},{"r":"Solution B","c":"CD34","s":"b","x":25,"y":28},{"r":"Solution B","c":"CD34","s":"b","x":32,"y":18},{"r":"Solution B","c":"CD34","s":"b","x":36,"y":14},{"r":"Solution B","c":"CD34","s":"b","x":40,"y":10},{"r":"Solution B","c":"CD34","s":"b","x":50,"y":6},{"r":"Solution B","c":"CD34","s":"b","x":63,"y":3},{"r":"Solution B","c":"CD34","s":"b","x":100,"y":1},{"r":"Solution B","c":"CD34","s":"b","x":160,"y":0},

{"r":"Solution B","c":"CD45","s":"i","x":1.45,"y":0},{"r":"Solution B","c":"CD45","s":"i","x":1.5,"y":2},{"r":"Solution B","c":"CD45","s":"i","x":2,"y":3},{"r":"Solution B","c":"CD45","s":"i","x":3.2,"y":4},{"r":"Solution B","c":"CD45","s":"i","x":4,"y":10},{"r":"Solution B","c":"CD45","s":"i","x":5,"y":26},{"r":"Solution B","c":"CD45","s":"i","x":6.3,"y":52},{"r":"Solution B","c":"CD45","s":"i","x":8,"y":84},{"r":"Solution B","c":"CD45","s":"i","x":9,"y":98},{"r":"Solution B","c":"CD45","s":"i","x":10,"y":108},{"r":"Solution B","c":"CD45","s":"i","x":11,"y":100},{"r":"Solution B","c":"CD45","s":"i","x":12.6,"y":88},{"r":"Solution B","c":"CD45","s":"i","x":16,"y":58},{"r":"Solution B","c":"CD45","s":"i","x":20,"y":36},{"r":"Solution B","c":"CD45","s":"i","x":25,"y":22},{"r":"Solution B","c":"CD45","s":"i","x":32,"y":13},{"r":"Solution B","c":"CD45","s":"i","x":40,"y":7},{"r":"Solution B","c":"CD45","s":"i","x":50,"y":4},{"r":"Solution B","c":"CD45","s":"i","x":63,"y":2},{"r":"Solution B","c":"CD45","s":"i","x":100,"y":1},{"r":"Solution B","c":"CD45","s":"i","x":200,"y":0},{"r":"Solution B","c":"CD45","s":"i","x":500,"y":0},
{"r":"Solution B","c":"CD45","s":"b","x":1.45,"y":0},{"r":"Solution B","c":"CD45","s":"b","x":1.5,"y":2},{"r":"Solution B","c":"CD45","s":"b","x":2,"y":3},{"r":"Solution B","c":"CD45","s":"b","x":2.5,"y":2},{"r":"Solution B","c":"CD45","s":"b","x":3.2,"y":5},{"r":"Solution B","c":"CD45","s":"b","x":4,"y":11},{"r":"Solution B","c":"CD45","s":"b","x":5,"y":26},{"r":"Solution B","c":"CD45","s":"b","x":6.3,"y":50},{"r":"Solution B","c":"CD45","s":"b","x":8,"y":80},{"r":"Solution B","c":"CD45","s":"b","x":9,"y":94},{"r":"Solution B","c":"CD45","s":"b","x":10,"y":102},{"r":"Solution B","c":"CD45","s":"b","x":11,"y":97},{"r":"Solution B","c":"CD45","s":"b","x":12.6,"y":86},{"r":"Solution B","c":"CD45","s":"b","x":14,"y":72},{"r":"Solution B","c":"CD45","s":"b","x":16,"y":58},{"r":"Solution B","c":"CD45","s":"b","x":20,"y":36},{"r":"Solution B","c":"CD45","s":"b","x":25,"y":22},{"r":"Solution B","c":"CD45","s":"b","x":32,"y":13},{"r":"Solution B","c":"CD45","s":"b","x":40,"y":7},{"r":"Solution B","c":"CD45","s":"b","x":50,"y":4},{"r":"Solution B","c":"CD45","s":"b","x":63,"y":2},{"r":"Solution B","c":"CD45","s":"b","x":100,"y":0},

{"r":"Solution B","c":"CD73","s":"i","x":2,"y":0},{"r":"Solution B","c":"CD73","s":"i","x":3.2,"y":2},{"r":"Solution B","c":"CD73","s":"i","x":4,"y":8},{"r":"Solution B","c":"CD73","s":"i","x":5,"y":25},{"r":"Solution B","c":"CD73","s":"i","x":6.3,"y":50},{"r":"Solution B","c":"CD73","s":"i","x":8,"y":80},{"r":"Solution B","c":"CD73","s":"i","x":10,"y":100},{"r":"Solution B","c":"CD73","s":"i","x":11,"y":106},{"r":"Solution B","c":"CD73","s":"i","x":12,"y":108},{"r":"Solution B","c":"CD73","s":"i","x":12.6,"y":100},{"r":"Solution B","c":"CD73","s":"i","x":14,"y":86},{"r":"Solution B","c":"CD73","s":"i","x":16,"y":70},{"r":"Solution B","c":"CD73","s":"i","x":20,"y":40},{"r":"Solution B","c":"CD73","s":"i","x":25,"y":25},{"r":"Solution B","c":"CD73","s":"i","x":32,"y":15},{"r":"Solution B","c":"CD73","s":"i","x":40,"y":8},{"r":"Solution B","c":"CD73","s":"i","x":50,"y":4},{"r":"Solution B","c":"CD73","s":"i","x":63,"y":2},{"r":"Solution B","c":"CD73","s":"i","x":100,"y":0},{"r":"Solution B","c":"CD73","s":"i","x":500,"y":0},
{"r":"Solution B","c":"CD73","s":"b","x":1.55,"y":0},{"r":"Solution B","c":"CD73","s":"b","x":1.6,"y":22},{"r":"Solution B","c":"CD73","s":"b","x":1.7,"y":10},{"r":"Solution B","c":"CD73","s":"b","x":1.8,"y":12},{"r":"Solution B","c":"CD73","s":"b","x":2,"y":10},{"r":"Solution B","c":"CD73","s":"b","x":2.3,"y":12},{"r":"Solution B","c":"CD73","s":"b","x":2.5,"y":8},{"r":"Solution B","c":"CD73","s":"b","x":3.2,"y":7},{"r":"Solution B","c":"CD73","s":"b","x":4,"y":6},{"r":"Solution B","c":"CD73","s":"b","x":5,"y":7},{"r":"Solution B","c":"CD73","s":"b","x":6.3,"y":5},{"r":"Solution B","c":"CD73","s":"b","x":8,"y":6},{"r":"Solution B","c":"CD73","s":"b","x":10,"y":4},{"r":"Solution B","c":"CD73","s":"b","x":12.6,"y":5},{"r":"Solution B","c":"CD73","s":"b","x":16,"y":7},{"r":"Solution B","c":"CD73","s":"b","x":20,"y":10},{"r":"Solution B","c":"CD73","s":"b","x":25,"y":18},{"r":"Solution B","c":"CD73","s":"b","x":32,"y":28},{"r":"Solution B","c":"CD73","s":"b","x":40,"y":40},{"r":"Solution B","c":"CD73","s":"b","x":50,"y":52},{"r":"Solution B","c":"CD73","s":"b","x":63,"y":62},{"r":"Solution B","c":"CD73","s":"b","x":72,"y":66},{"r":"Solution B","c":"CD73","s":"b","x":80,"y":70},{"r":"Solution B","c":"CD73","s":"b","x":90,"y":64},{"r":"Solution B","c":"CD73","s":"b","x":100,"y":62},{"r":"Solution B","c":"CD73","s":"b","x":126,"y":48},{"r":"Solution B","c":"CD73","s":"b","x":158,"y":38},{"r":"Solution B","c":"CD73","s":"b","x":200,"y":30},{"r":"Solution B","c":"CD73","s":"b","x":251,"y":20},{"r":"Solution B","c":"CD73","s":"b","x":316,"y":15},{"r":"Solution B","c":"CD73","s":"b","x":398,"y":10},{"r":"Solution B","c":"CD73","s":"b","x":501,"y":6},{"r":"Solution B","c":"CD73","s":"b","x":631,"y":3},{"r":"Solution B","c":"CD73","s":"b","x":794,"y":2},{"r":"Solution B","c":"CD73","s":"b","x":1000,"y":1},{"r":"Solution B","c":"CD73","s":"b","x":1259,"y":0},

{"r":"Solution B","c":"CD90","s":"i","x":2,"y":0},{"r":"Solution B","c":"CD90","s":"i","x":3.2,"y":2},{"r":"Solution B","c":"CD90","s":"i","x":4,"y":6},{"r":"Solution B","c":"CD90","s":"i","x":5,"y":25},{"r":"Solution B","c":"CD90","s":"i","x":6.3,"y":55},{"r":"Solution B","c":"CD90","s":"i","x":8,"y":90},{"r":"Solution B","c":"CD90","s":"i","x":9,"y":104},{"r":"Solution B","c":"CD90","s":"i","x":10,"y":110},{"r":"Solution B","c":"CD90","s":"i","x":11,"y":112},{"r":"Solution B","c":"CD90","s":"i","x":12,"y":104},{"r":"Solution B","c":"CD90","s":"i","x":12.6,"y":100},{"r":"Solution B","c":"CD90","s":"i","x":16,"y":65},{"r":"Solution B","c":"CD90","s":"i","x":20,"y":35},{"r":"Solution B","c":"CD90","s":"i","x":25,"y":18},{"r":"Solution B","c":"CD90","s":"i","x":32,"y":8},{"r":"Solution B","c":"CD90","s":"i","x":40,"y":4},{"r":"Solution B","c":"CD90","s":"i","x":50,"y":2},{"r":"Solution B","c":"CD90","s":"i","x":80,"y":0},{"r":"Solution B","c":"CD90","s":"i","x":500,"y":0},
{"r":"Solution B","c":"CD90","s":"b","x":1.45,"y":0},{"r":"Solution B","c":"CD90","s":"b","x":1.5,"y":50},{"r":"Solution B","c":"CD90","s":"b","x":1.6,"y":20},{"r":"Solution B","c":"CD90","s":"b","x":2,"y":10},{"r":"Solution B","c":"CD90","s":"b","x":2.5,"y":8},{"r":"Solution B","c":"CD90","s":"b","x":3.2,"y":6},{"r":"Solution B","c":"CD90","s":"b","x":4,"y":6},{"r":"Solution B","c":"CD90","s":"b","x":5,"y":8},{"r":"Solution B","c":"CD90","s":"b","x":6.3,"y":9},{"r":"Solution B","c":"CD90","s":"b","x":8,"y":10},{"r":"Solution B","c":"CD90","s":"b","x":10,"y":12},{"r":"Solution B","c":"CD90","s":"b","x":12.6,"y":8},{"r":"Solution B","c":"CD90","s":"b","x":16,"y":6},{"r":"Solution B","c":"CD90","s":"b","x":20,"y":4},{"r":"Solution B","c":"CD90","s":"b","x":25,"y":3},{"r":"Solution B","c":"CD90","s":"b","x":32,"y":4},{"r":"Solution B","c":"CD90","s":"b","x":40,"y":6},{"r":"Solution B","c":"CD90","s":"b","x":50,"y":10},{"r":"Solution B","c":"CD90","s":"b","x":63,"y":18},{"r":"Solution B","c":"CD90","s":"b","x":80,"y":28},{"r":"Solution B","c":"CD90","s":"b","x":100,"y":40},{"r":"Solution B","c":"CD90","s":"b","x":126,"y":52},{"r":"Solution B","c":"CD90","s":"b","x":158,"y":62},{"r":"Solution B","c":"CD90","s":"b","x":200,"y":68},{"r":"Solution B","c":"CD90","s":"b","x":230,"y":74},{"r":"Solution B","c":"CD90","s":"b","x":251,"y":70},{"r":"Solution B","c":"CD90","s":"b","x":280,"y":74},{"r":"Solution B","c":"CD90","s":"b","x":316,"y":68},{"r":"Solution B","c":"CD90","s":"b","x":398,"y":52},{"r":"Solution B","c":"CD90","s":"b","x":501,"y":35},{"r":"Solution B","c":"CD90","s":"b","x":631,"y":18},{"r":"Solution B","c":"CD90","s":"b","x":794,"y":8},{"r":"Solution B","c":"CD90","s":"b","x":1000,"y":2},{"r":"Solution B","c":"CD90","s":"b","x":1259,"y":0},

{"r":"Solution B","c":"CD105","s":"i","x":1.5,"y":0},{"r":"Solution B","c":"CD105","s":"i","x":2,"y":2},{"r":"Solution B","c":"CD105","s":"i","x":3.2,"y":5},{"r":"Solution B","c":"CD105","s":"i","x":4,"y":12},{"r":"Solution B","c":"CD105","s":"i","x":5,"y":30},{"r":"Solution B","c":"CD105","s":"i","x":6.3,"y":60},{"r":"Solution B","c":"CD105","s":"i","x":8,"y":95},{"r":"Solution B","c":"CD105","s":"i","x":9,"y":108},{"r":"Solution B","c":"CD105","s":"i","x":10,"y":105},{"r":"Solution B","c":"CD105","s":"i","x":12.6,"y":85},{"r":"Solution B","c":"CD105","s":"i","x":16,"y":55},{"r":"Solution B","c":"CD105","s":"i","x":20,"y":32},{"r":"Solution B","c":"CD105","s":"i","x":25,"y":20},{"r":"Solution B","c":"CD105","s":"i","x":32,"y":12},{"r":"Solution B","c":"CD105","s":"i","x":40,"y":8},{"r":"Solution B","c":"CD105","s":"i","x":50,"y":5},{"r":"Solution B","c":"CD105","s":"i","x":63,"y":3},{"r":"Solution B","c":"CD105","s":"i","x":100,"y":1},{"r":"Solution B","c":"CD105","s":"i","x":200,"y":0},{"r":"Solution B","c":"CD105","s":"i","x":500,"y":0},
{"r":"Solution B","c":"CD105","s":"b","x":1.4,"y":0},{"r":"Solution B","c":"CD105","s":"b","x":1.43,"y":200},{"r":"Solution B","c":"CD105","s":"b","x":1.47,"y":60},{"r":"Solution B","c":"CD105","s":"b","x":1.5,"y":140},{"r":"Solution B","c":"CD105","s":"b","x":1.55,"y":40},{"r":"Solution B","c":"CD105","s":"b","x":1.6,"y":40},{"r":"Solution B","c":"CD105","s":"b","x":1.7,"y":35},{"r":"Solution B","c":"CD105","s":"b","x":1.8,"y":42},{"r":"Solution B","c":"CD105","s":"b","x":2,"y":30},{"r":"Solution B","c":"CD105","s":"b","x":2.2,"y":15},{"r":"Solution B","c":"CD105","s":"b","x":2.5,"y":5},{"r":"Solution B","c":"CD105","s":"b","x":3.2,"y":2},{"r":"Solution B","c":"CD105","s":"b","x":4,"y":2},{"r":"Solution B","c":"CD105","s":"b","x":5,"y":2},{"r":"Solution B","c":"CD105","s":"b","x":6.3,"y":2},{"r":"Solution B","c":"CD105","s":"b","x":8,"y":2},{"r":"Solution B","c":"CD105","s":"b","x":10,"y":3},{"r":"Solution B","c":"CD105","s":"b","x":12.6,"y":3},{"r":"Solution B","c":"CD105","s":"b","x":16,"y":4},{"r":"Solution B","c":"CD105","s":"b","x":20,"y":5},{"r":"Solution B","c":"CD105","s":"b","x":25,"y":6},{"r":"Solution B","c":"CD105","s":"b","x":32,"y":8},{"r":"Solution B","c":"CD105","s":"b","x":40,"y":12},{"r":"Solution B","c":"CD105","s":"b","x":50,"y":15},{"r":"Solution B","c":"CD105","s":"b","x":63,"y":16},{"r":"Solution B","c":"CD105","s":"b","x":80,"y":14},{"r":"Solution B","c":"CD105","s":"b","x":100,"y":16},{"r":"Solution B","c":"CD105","s":"b","x":126,"y":20},{"r":"Solution B","c":"CD105","s":"b","x":158,"y":22},{"r":"Solution B","c":"CD105","s":"b","x":200,"y":25},{"r":"Solution B","c":"CD105","s":"b","x":251,"y":28},{"r":"Solution B","c":"CD105","s":"b","x":316,"y":28},{"r":"Solution B","c":"CD105","s":"b","x":398,"y":32},{"r":"Solution B","c":"CD105","s":"b","x":501,"y":30},{"r":"Solution B","c":"CD105","s":"b","x":631,"y":34},{"r":"Solution B","c":"CD105","s":"b","x":794,"y":35},{"r":"Solution B","c":"CD105","s":"b","x":1000,"y":36},{"r":"Solution B","c":"CD105","s":"b","x":1259,"y":38},{"r":"Solution B","c":"CD105","s":"b","x":1400,"y":34},{"r":"Solution B","c":"CD105","s":"b","x":1585,"y":22},{"r":"Solution B","c":"CD105","s":"b","x":1995,"y":8},{"r":"Solution B","c":"CD105","s":"b","x":2300,"y":0},

{"r":"Solution C","c":"CD34","s":"i","x":1.45,"y":0},{"r":"Solution C","c":"CD34","s":"i","x":1.5,"y":8},{"r":"Solution C","c":"CD34","s":"i","x":1.7,"y":3},{"r":"Solution C","c":"CD34","s":"i","x":2,"y":3},{"r":"Solution C","c":"CD34","s":"i","x":3.2,"y":5},{"r":"Solution C","c":"CD34","s":"i","x":4,"y":12},{"r":"Solution C","c":"CD34","s":"i","x":5,"y":35},{"r":"Solution C","c":"CD34","s":"i","x":6.3,"y":70},{"r":"Solution C","c":"CD34","s":"i","x":7.5,"y":92},{"r":"Solution C","c":"CD34","s":"i","x":8.2,"y":103},{"r":"Solution C","c":"CD34","s":"i","x":9,"y":98},{"r":"Solution C","c":"CD34","s":"i","x":10,"y":90},{"r":"Solution C","c":"CD34","s":"i","x":12.6,"y":70},{"r":"Solution C","c":"CD34","s":"i","x":16,"y":48},{"r":"Solution C","c":"CD34","s":"i","x":20,"y":30},{"r":"Solution C","c":"CD34","s":"i","x":25,"y":18},{"r":"Solution C","c":"CD34","s":"i","x":32,"y":10},{"r":"Solution C","c":"CD34","s":"i","x":40,"y":6},{"r":"Solution C","c":"CD34","s":"i","x":50,"y":3},{"r":"Solution C","c":"CD34","s":"i","x":63,"y":2},{"r":"Solution C","c":"CD34","s":"i","x":100,"y":1},{"r":"Solution C","c":"CD34","s":"i","x":200,"y":1},{"r":"Solution C","c":"CD34","s":"i","x":300,"y":0},{"r":"Solution C","c":"CD34","s":"i","x":500,"y":0},
{"r":"Solution C","c":"CD34","s":"b","x":1.45,"y":0},{"r":"Solution C","c":"CD34","s":"b","x":1.5,"y":6},{"r":"Solution C","c":"CD34","s":"b","x":2,"y":3},{"r":"Solution C","c":"CD34","s":"b","x":2.5,"y":3},{"r":"Solution C","c":"CD34","s":"b","x":3.2,"y":5},{"r":"Solution C","c":"CD34","s":"b","x":4,"y":12},{"r":"Solution C","c":"CD34","s":"b","x":5,"y":34},{"r":"Solution C","c":"CD34","s":"b","x":6.3,"y":68},{"r":"Solution C","c":"CD34","s":"b","x":7.5,"y":90},{"r":"Solution C","c":"CD34","s":"b","x":8.2,"y":100},{"r":"Solution C","c":"CD34","s":"b","x":9,"y":96},{"r":"Solution C","c":"CD34","s":"b","x":10,"y":88},{"r":"Solution C","c":"CD34","s":"b","x":12.6,"y":68},{"r":"Solution C","c":"CD34","s":"b","x":16,"y":46},{"r":"Solution C","c":"CD34","s":"b","x":20,"y":30},{"r":"Solution C","c":"CD34","s":"b","x":25,"y":18},{"r":"Solution C","c":"CD34","s":"b","x":32,"y":10},{"r":"Solution C","c":"CD34","s":"b","x":40,"y":6},{"r":"Solution C","c":"CD34","s":"b","x":50,"y":3},{"r":"Solution C","c":"CD34","s":"b","x":63,"y":2},{"r":"Solution C","c":"CD34","s":"b","x":100,"y":0},

{"r":"Solution C","c":"CD45","s":"i","x":1.45,"y":0},{"r":"Solution C","c":"CD45","s":"i","x":1.5,"y":3},{"r":"Solution C","c":"CD45","s":"i","x":2,"y":3},{"r":"Solution C","c":"CD45","s":"i","x":3.2,"y":5},{"r":"Solution C","c":"CD45","s":"i","x":4,"y":15},{"r":"Solution C","c":"CD45","s":"i","x":5,"y":40},{"r":"Solution C","c":"CD45","s":"i","x":6.3,"y":75},{"r":"Solution C","c":"CD45","s":"i","x":7.5,"y":92},{"r":"Solution C","c":"CD45","s":"i","x":8.5,"y":96},{"r":"Solution C","c":"CD45","s":"i","x":9.2,"y":92},{"r":"Solution C","c":"CD45","s":"i","x":10,"y":86},{"r":"Solution C","c":"CD45","s":"i","x":12.6,"y":65},{"r":"Solution C","c":"CD45","s":"i","x":16,"y":42},{"r":"Solution C","c":"CD45","s":"i","x":20,"y":28},{"r":"Solution C","c":"CD45","s":"i","x":25,"y":18},{"r":"Solution C","c":"CD45","s":"i","x":32,"y":10},{"r":"Solution C","c":"CD45","s":"i","x":40,"y":5},{"r":"Solution C","c":"CD45","s":"i","x":50,"y":3},{"r":"Solution C","c":"CD45","s":"i","x":80,"y":0},{"r":"Solution C","c":"CD45","s":"i","x":500,"y":0},
{"r":"Solution C","c":"CD45","s":"b","x":1.45,"y":0},{"r":"Solution C","c":"CD45","s":"b","x":1.5,"y":5},{"r":"Solution C","c":"CD45","s":"b","x":2,"y":2},{"r":"Solution C","c":"CD45","s":"b","x":2.5,"y":3},{"r":"Solution C","c":"CD45","s":"b","x":3.2,"y":5},{"r":"Solution C","c":"CD45","s":"b","x":4,"y":15},{"r":"Solution C","c":"CD45","s":"b","x":5,"y":40},{"r":"Solution C","c":"CD45","s":"b","x":6.3,"y":74},{"r":"Solution C","c":"CD45","s":"b","x":7.5,"y":90},{"r":"Solution C","c":"CD45","s":"b","x":8.2,"y":95},{"r":"Solution C","c":"CD45","s":"b","x":9,"y":90},{"r":"Solution C","c":"CD45","s":"b","x":9.5,"y":94},{"r":"Solution C","c":"CD45","s":"b","x":10,"y":86},{"r":"Solution C","c":"CD45","s":"b","x":12.6,"y":64},{"r":"Solution C","c":"CD45","s":"b","x":16,"y":42},{"r":"Solution C","c":"CD45","s":"b","x":20,"y":28},{"r":"Solution C","c":"CD45","s":"b","x":25,"y":18},{"r":"Solution C","c":"CD45","s":"b","x":32,"y":10},{"r":"Solution C","c":"CD45","s":"b","x":40,"y":5},{"r":"Solution C","c":"CD45","s":"b","x":50,"y":3},{"r":"Solution C","c":"CD45","s":"b","x":80,"y":0},

{"r":"Solution C","c":"CD73","s":"i","x":1.45,"y":0},{"r":"Solution C","c":"CD73","s":"i","x":1.5,"y":2},{"r":"Solution C","c":"CD73","s":"i","x":2,"y":3},{"r":"Solution C","c":"CD73","s":"i","x":3.2,"y":5},{"r":"Solution C","c":"CD73","s":"i","x":4,"y":12},{"r":"Solution C","c":"CD73","s":"i","x":5,"y":35},{"r":"Solution C","c":"CD73","s":"i","x":6.3,"y":65},{"r":"Solution C","c":"CD73","s":"i","x":8,"y":88},{"r":"Solution C","c":"CD73","s":"i","x":10,"y":98},{"r":"Solution C","c":"CD73","s":"i","x":11,"y":96},{"r":"Solution C","c":"CD73","s":"i","x":12.6,"y":85},{"r":"Solution C","c":"CD73","s":"i","x":16,"y":60},{"r":"Solution C","c":"CD73","s":"i","x":20,"y":38},{"r":"Solution C","c":"CD73","s":"i","x":25,"y":22},{"r":"Solution C","c":"CD73","s":"i","x":32,"y":12},{"r":"Solution C","c":"CD73","s":"i","x":40,"y":6},{"r":"Solution C","c":"CD73","s":"i","x":50,"y":3},{"r":"Solution C","c":"CD73","s":"i","x":63,"y":2},{"r":"Solution C","c":"CD73","s":"i","x":100,"y":0},{"r":"Solution C","c":"CD73","s":"i","x":500,"y":0},
{"r":"Solution C","c":"CD73","s":"b","x":1.45,"y":0},{"r":"Solution C","c":"CD73","s":"b","x":1.5,"y":14},{"r":"Solution C","c":"CD73","s":"b","x":1.6,"y":6},{"r":"Solution C","c":"CD73","s":"b","x":2,"y":8},{"r":"Solution C","c":"CD73","s":"b","x":2.5,"y":6},{"r":"Solution C","c":"CD73","s":"b","x":3.2,"y":7},{"r":"Solution C","c":"CD73","s":"b","x":4,"y":8},{"r":"Solution C","c":"CD73","s":"b","x":5,"y":7},{"r":"Solution C","c":"CD73","s":"b","x":6.3,"y":6},{"r":"Solution C","c":"CD73","s":"b","x":8,"y":5},{"r":"Solution C","c":"CD73","s":"b","x":10,"y":5},{"r":"Solution C","c":"CD73","s":"b","x":12.6,"y":4},{"r":"Solution C","c":"CD73","s":"b","x":16,"y":3},{"r":"Solution C","c":"CD73","s":"b","x":20,"y":3},{"r":"Solution C","c":"CD73","s":"b","x":25,"y":4},{"r":"Solution C","c":"CD73","s":"b","x":32,"y":8},{"r":"Solution C","c":"CD73","s":"b","x":40,"y":18},{"r":"Solution C","c":"CD73","s":"b","x":50,"y":35},{"r":"Solution C","c":"CD73","s":"b","x":63,"y":52},{"r":"Solution C","c":"CD73","s":"b","x":80,"y":68},{"r":"Solution C","c":"CD73","s":"b","x":100,"y":72},{"r":"Solution C","c":"CD73","s":"b","x":126,"y":70},{"r":"Solution C","c":"CD73","s":"b","x":140,"y":74},{"r":"Solution C","c":"CD73","s":"b","x":150,"y":84},{"r":"Solution C","c":"CD73","s":"b","x":160,"y":66},{"r":"Solution C","c":"CD73","s":"b","x":180,"y":58},{"r":"Solution C","c":"CD73","s":"b","x":200,"y":52},{"r":"Solution C","c":"CD73","s":"b","x":251,"y":40},{"r":"Solution C","c":"CD73","s":"b","x":316,"y":25},{"r":"Solution C","c":"CD73","s":"b","x":398,"y":14},{"r":"Solution C","c":"CD73","s":"b","x":501,"y":7},{"r":"Solution C","c":"CD73","s":"b","x":631,"y":3},{"r":"Solution C","c":"CD73","s":"b","x":794,"y":1},{"r":"Solution C","c":"CD73","s":"b","x":1000,"y":0},

{"r":"Solution C","c":"CD90","s":"i","x":2,"y":0},{"r":"Solution C","c":"CD90","s":"i","x":3.2,"y":3},{"r":"Solution C","c":"CD90","s":"i","x":4,"y":10},{"r":"Solution C","c":"CD90","s":"i","x":5,"y":30},{"r":"Solution C","c":"CD90","s":"i","x":6.3,"y":60},{"r":"Solution C","c":"CD90","s":"i","x":8,"y":88},{"r":"Solution C","c":"CD90","s":"i","x":10,"y":97},{"r":"Solution C","c":"CD90","s":"i","x":12.6,"y":85},{"r":"Solution C","c":"CD90","s":"i","x":16,"y":55},{"r":"Solution C","c":"CD90","s":"i","x":20,"y":30},{"r":"Solution C","c":"CD90","s":"i","x":25,"y":15},{"r":"Solution C","c":"CD90","s":"i","x":32,"y":8},{"r":"Solution C","c":"CD90","s":"i","x":40,"y":4},{"r":"Solution C","c":"CD90","s":"i","x":50,"y":2},{"r":"Solution C","c":"CD90","s":"i","x":80,"y":0},{"r":"Solution C","c":"CD90","s":"i","x":500,"y":0},
{"r":"Solution C","c":"CD90","s":"b","x":1.45,"y":0},{"r":"Solution C","c":"CD90","s":"b","x":1.5,"y":50},{"r":"Solution C","c":"CD90","s":"b","x":1.6,"y":15},{"r":"Solution C","c":"CD90","s":"b","x":2,"y":8},{"r":"Solution C","c":"CD90","s":"b","x":2.5,"y":6},{"r":"Solution C","c":"CD90","s":"b","x":3.2,"y":6},{"r":"Solution C","c":"CD90","s":"b","x":4,"y":7},{"r":"Solution C","c":"CD90","s":"b","x":5,"y":8},{"r":"Solution C","c":"CD90","s":"b","x":6.3,"y":9},{"r":"Solution C","c":"CD90","s":"b","x":8,"y":10},{"r":"Solution C","c":"CD90","s":"b","x":10,"y":11},{"r":"Solution C","c":"CD90","s":"b","x":12.6,"y":8},{"r":"Solution C","c":"CD90","s":"b","x":16,"y":6},{"r":"Solution C","c":"CD90","s":"b","x":20,"y":4},{"r":"Solution C","c":"CD90","s":"b","x":25,"y":3},{"r":"Solution C","c":"CD90","s":"b","x":32,"y":4},{"r":"Solution C","c":"CD90","s":"b","x":40,"y":6},{"r":"Solution C","c":"CD90","s":"b","x":50,"y":10},{"r":"Solution C","c":"CD90","s":"b","x":63,"y":18},{"r":"Solution C","c":"CD90","s":"b","x":80,"y":28},{"r":"Solution C","c":"CD90","s":"b","x":100,"y":40},{"r":"Solution C","c":"CD90","s":"b","x":126,"y":52},{"r":"Solution C","c":"CD90","s":"b","x":158,"y":62},{"r":"Solution C","c":"CD90","s":"b","x":200,"y":70},{"r":"Solution C","c":"CD90","s":"b","x":251,"y":75},{"r":"Solution C","c":"CD90","s":"b","x":316,"y":68},{"r":"Solution C","c":"CD90","s":"b","x":398,"y":50},{"r":"Solution C","c":"CD90","s":"b","x":501,"y":32},{"r":"Solution C","c":"CD90","s":"b","x":631,"y":16},{"r":"Solution C","c":"CD90","s":"b","x":794,"y":6},{"r":"Solution C","c":"CD90","s":"b","x":1000,"y":2},{"r":"Solution C","c":"CD90","s":"b","x":1259,"y":0},

{"r":"Solution C","c":"CD105","s":"i","x":1.45,"y":0},{"r":"Solution C","c":"CD105","s":"i","x":1.5,"y":3},{"r":"Solution C","c":"CD105","s":"i","x":2,"y":4},{"r":"Solution C","c":"CD105","s":"i","x":3.2,"y":8},{"r":"Solution C","c":"CD105","s":"i","x":4,"y":18},{"r":"Solution C","c":"CD105","s":"i","x":5,"y":40},{"r":"Solution C","c":"CD105","s":"i","x":6.3,"y":68},{"r":"Solution C","c":"CD105","s":"i","x":8,"y":90},{"r":"Solution C","c":"CD105","s":"i","x":9,"y":96},{"r":"Solution C","c":"CD105","s":"i","x":10,"y":92},{"r":"Solution C","c":"CD105","s":"i","x":12.6,"y":75},{"r":"Solution C","c":"CD105","s":"i","x":16,"y":50},{"r":"Solution C","c":"CD105","s":"i","x":20,"y":30},{"r":"Solution C","c":"CD105","s":"i","x":25,"y":20},{"r":"Solution C","c":"CD105","s":"i","x":32,"y":14},{"r":"Solution C","c":"CD105","s":"i","x":40,"y":10},{"r":"Solution C","c":"CD105","s":"i","x":50,"y":7},{"r":"Solution C","c":"CD105","s":"i","x":63,"y":4},{"r":"Solution C","c":"CD105","s":"i","x":100,"y":1},{"r":"Solution C","c":"CD105","s":"i","x":200,"y":0},{"r":"Solution C","c":"CD105","s":"i","x":500,"y":0},
{"r":"Solution C","c":"CD105","s":"b","x":1.4,"y":0},{"r":"Solution C","c":"CD105","s":"b","x":1.43,"y":185},{"r":"Solution C","c":"CD105","s":"b","x":1.47,"y":60},{"r":"Solution C","c":"CD105","s":"b","x":1.5,"y":100},{"r":"Solution C","c":"CD105","s":"b","x":1.55,"y":35},{"r":"Solution C","c":"CD105","s":"b","x":1.6,"y":40},{"r":"Solution C","c":"CD105","s":"b","x":1.7,"y":38},{"r":"Solution C","c":"CD105","s":"b","x":1.8,"y":40},{"r":"Solution C","c":"CD105","s":"b","x":2,"y":25},{"r":"Solution C","c":"CD105","s":"b","x":2.2,"y":12},{"r":"Solution C","c":"CD105","s":"b","x":2.5,"y":4},{"r":"Solution C","c":"CD105","s":"b","x":3.2,"y":2},{"r":"Solution C","c":"CD105","s":"b","x":4,"y":2},{"r":"Solution C","c":"CD105","s":"b","x":6.3,"y":2},{"r":"Solution C","c":"CD105","s":"b","x":10,"y":2},{"r":"Solution C","c":"CD105","s":"b","x":16,"y":3},{"r":"Solution C","c":"CD105","s":"b","x":25,"y":5},{"r":"Solution C","c":"CD105","s":"b","x":32,"y":7},{"r":"Solution C","c":"CD105","s":"b","x":40,"y":10},{"r":"Solution C","c":"CD105","s":"b","x":50,"y":14},{"r":"Solution C","c":"CD105","s":"b","x":63,"y":14},{"r":"Solution C","c":"CD105","s":"b","x":80,"y":12},{"r":"Solution C","c":"CD105","s":"b","x":100,"y":13},{"r":"Solution C","c":"CD105","s":"b","x":126,"y":16},{"r":"Solution C","c":"CD105","s":"b","x":158,"y":18},{"r":"Solution C","c":"CD105","s":"b","x":200,"y":22},{"r":"Solution C","c":"CD105","s":"b","x":251,"y":25},{"r":"Solution C","c":"CD105","s":"b","x":316,"y":26},{"r":"Solution C","c":"CD105","s":"b","x":398,"y":28},{"r":"Solution C","c":"CD105","s":"b","x":501,"y":28},{"r":"Solution C","c":"CD105","s":"b","x":631,"y":30},{"r":"Solution C","c":"CD105","s":"b","x":794,"y":35},{"r":"Solution C","c":"CD105","s":"b","x":1000,"y":42},{"r":"Solution C","c":"CD105","s":"b","x":1259,"y":45},{"r":"Solution C","c":"CD105","s":"b","x":1400,"y":40},{"r":"Solution C","c":"CD105","s":"b","x":1585,"y":25},{"r":"Solution C","c":"CD105","s":"b","x":1995,"y":8},{"r":"Solution C","c":"CD105","s":"b","x":2300,"y":0}
]},
"facet": {
  "row": {"field": "r", "type": "nominal", "sort": ["Control", "Solution A", "Solution B", "Solution C"],
    "header": {"title": null, "labelAngle": 0, "labelOrient": "left", "labelAlign": "left", "labelFontSize": 21, "labelPadding": 75}},
  "column": {"field": "c", "type": "nominal", "sort": ["CD34", "CD45", "CD73", "CD90", "CD105"],
    "header": {"title": null, "labelFontSize": 21, "labelPadding": 15}}
},
"spacing": {"row": 75, "column": 81},
"bounds": "flush",
"resolve": {"axis": {"x": "independent", "y": "independent"}},
"spec": {
  "width": 157,
  "height": 157,
  "layer": [
    {"transform": [{"filter": "datum.s == 'b'"}], "mark": {"type": "line", "color": "#1e1ea6", "strokeWidth": 2.8, "strokeJoin": "round"},
      "encoding": {
        "x": {"field": "x", "type": "quantitative", "scale": {"type": "log", "domain": [1, 10000]},
          "axis": {"title": "FL1-H", "values": [1, 10, 100, 1000, 10000], "labelFlush": false, "labelOverlap": false, "labelPadding": 11, "titlePadding": 6, "titleFontSize": 16, "labelFontSize": 15,
            "labelExpr": "datum.value == 1 ? '10⁰' : datum.value == 10 ? '10¹' : datum.value == 100 ? '10²' : datum.value == 1000 ? '10³' : '10⁴'"}},
        "y": {"field": "y", "type": "quantitative", "scale": {"domain": [0, 200], "nice": false},
          "axis": {"title": "Counts", "values": [0, 40, 80, 120, 160, 200], "labelFlush": false, "labelOverlap": false, "labelPadding": 5, "titlePadding": 6, "titleFontSize": 15, "labelFontSize": 14}}
      }},
    {"transform": [{"filter": "datum.s == 'b'"}], "mark": {"type": "line", "color": "#000000", "strokeWidth": 0.9},
      "encoding": {
        "x": {"field": "x", "type": "quantitative", "scale": {"type": "log", "domain": [1, 10000]},
          "axis": {"title": "FL1-H", "values": [1, 10, 100, 1000, 10000], "labelFlush": false, "labelOverlap": false, "labelPadding": 11, "titlePadding": 6, "titleFontSize": 16, "labelFontSize": 15,
            "labelExpr": "datum.value == 1 ? '10⁰' : datum.value == 10 ? '10¹' : datum.value == 100 ? '10²' : datum.value == 1000 ? '10³' : '10⁴'"}},
        "y": {"field": "y", "type": "quantitative", "scale": {"domain": [0, 200], "nice": false},
          "axis": {"title": "Counts", "values": [0, 40, 80, 120, 160, 200], "labelFlush": false, "labelOverlap": false, "labelPadding": 5, "titlePadding": 6, "titleFontSize": 15, "labelFontSize": 14}}
      }},
    {"transform": [{"filter": "datum.s == 'i'"}], "mark": {"type": "line", "color": "#4d4d4d", "strokeWidth": 1.1},
      "encoding": {
        "x": {"field": "x", "type": "quantitative", "scale": {"type": "log", "domain": [1, 10000]},
          "axis": {"title": "FL1-H", "values": [1, 10, 100, 1000, 10000], "labelFlush": false, "labelOverlap": false, "labelPadding": 11, "titlePadding": 6, "titleFontSize": 16, "labelFontSize": 15,
            "labelExpr": "datum.value == 1 ? '10⁰' : datum.value == 10 ? '10¹' : datum.value == 100 ? '10²' : datum.value == 1000 ? '10³' : '10⁴'"}},
        "y": {"field": "y", "type": "quantitative", "scale": {"domain": [0, 200], "nice": false},
          "axis": {"title": "Counts", "values": [0, 40, 80, 120, 160, 200], "labelFlush": false, "labelOverlap": false, "labelPadding": 5, "titlePadding": 6, "titleFontSize": 15, "labelFontSize": 14}}
      }},
    {"transform": [{"filter": "datum.s == 'p'"}], "mark": {"type": "text", "align": "left", "baseline": "middle", "fontSize": 20, "color": "#000000"},
      "encoding": {
        "x": {"datum": 314, "type": "quantitative", "scale": {"type": "log", "domain": [1, 10000]},
          "axis": {"title": "FL1-H", "values": [1, 10, 100, 1000, 10000], "labelFlush": false, "labelOverlap": false, "labelPadding": 11, "titlePadding": 6, "titleFontSize": 16, "labelFontSize": 15,
            "labelExpr": "datum.value == 1 ? '10⁰' : datum.value == 10 ? '10¹' : datum.value == 100 ? '10²' : datum.value == 1000 ? '10³' : '10⁴'"}},
        "y": {"datum": 162, "type": "quantitative", "scale": {"domain": [0, 200], "nice": false},
          "axis": {"title": "Counts", "values": [0, 40, 80, 120, 160, 200], "labelFlush": false, "labelOverlap": false, "labelPadding": 5, "titlePadding": 6, "titleFontSize": 15, "labelFontSize": 14}},
        "text": {"field": "t"}}}
  ]
},
"config": {
  "font": "Liberation Sans",
  "view": {"stroke": null},
  "axis": {"grid": false, "labelOverlap": false, "domainColor": "#000000", "tickColor": "#000000", "labelColor": "#000000", "titleColor": "#000000", "domainWidth": 1.4, "tickWidth": 1.4, "tickSize": 7, "labelFontSize": 15, "titleFontWeight": "normal", "labelFont": "Liberation Sans", "titleFont": "Liberation Sans"},
  "header": {"labelFont": "Liberation Sans", "labelColor": "#000000"}
}
}
